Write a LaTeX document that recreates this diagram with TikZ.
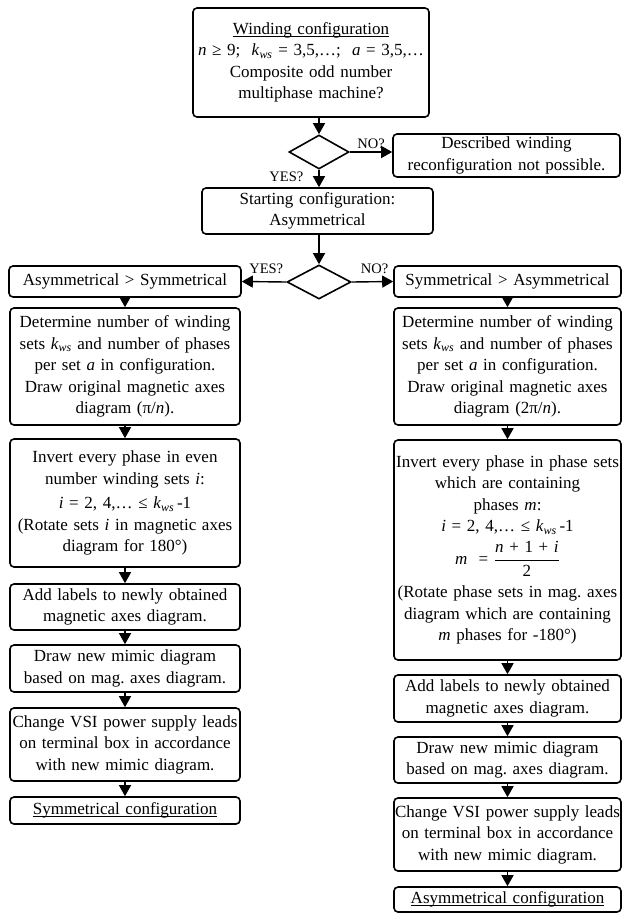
\documentclass[tikz,border=0pt]{standalone}
\usepackage{amsmath}
\usepackage{fontspec}
\setmainfont{Liberation Serif}
\usetikzlibrary{shapes.geometric,arrows.meta}
\newsavebox{\ulbox}
\newcommand{\ulin}[1]{\sbox{\ulbox}{#1}\rlap{\rule[-2.2pt]{\wd\ulbox}{0.8pt}}\usebox{\ulbox}}
\newcommand{\kws}{\textit{k}\textsubscript{\textit{ws}}}
\tikzset{
  box/.style 2 args={draw, rounded corners=4pt, line width=1.6pt, align=center,
    text width=#1, minimum height=#2, inner xsep=0pt, inner ysep=0pt},
  dec/.style 2 args={draw, diamond, line width=1.6pt, minimum width=#1,
    minimum height=#2, inner sep=0pt},
  arr/.style={line width=1.4pt, -{Triangle[width=12pt,length=11pt]}},
  lbl/.style={font=\fontsize{14.5}{16}\selectfont, inner sep=1pt}
}

\begin{document}
\begin{tikzpicture}[x=1pt, y=-1pt, font=\fontsize{17}{21.5}\selectfont\frenchspacing]
\useasboundingbox (0,0) rectangle (623,913);
\node[box={236pt}{109pt}] (win) at (311,62.5) {\ulin{Winding configuration}\\
  \textit{n} ≥ 9;\ \ \kws{} = 3,5,…;\ \ \textit{a} = 3,5,…\\
  Composite odd number\\ multiphase machine?};
\node[dec={60pt}{34pt}] (d1) at (319,152) {};
\node[box={227pt}{43pt}] (nopos) at (506.5,155.5) {Described winding\\ reconfiguration not possible.};
\node[box={231pt}{46pt}] (start) at (317.5,211) {Starting configuration:\\ Asymmetrical};
\node[dec={64pt}{34pt}] (d2) at (319,282) {};
\node[box={232pt}{31pt}] (asym) at (125,281.5) {Asymmetrical > Symmetrical};
\node[box={227pt}{31pt}] (sym) at (507.5,281.5) {Symmetrical > Asymmetrical};

\node[box={230pt}{117pt}] (L1) at (125,366.5) {Determine number of winding\\
  sets \kws{} and number of phases\\ per set \textit{a} in configuration.\\
  Draw original magnetic axes\\ diagram (π/\textit{n}).};
\node[box={230pt}{128pt}] (L2) at (125,503) {Invert every phase in even\\
  number winding sets \textit{i}:\\[3pt] \textit{i} = 2, 4,… ≤ \kws{}\,-1\\
  (Rotate sets \textit{i} in magnetic axes\\ diagram for 180°)};
\node[box={230pt}{46pt}] (L3) at (125,607) {Add labels to newly obtained\\ magnetic axes diagram.};
\node[box={230pt}{47pt}] (L4) at (125,668.5) {Draw new mimic diagram\\ based on mag. axes diagram.};
\node[box={230pt}{73pt}] (L5) at (125,744.5) {Change VSI power supply leads\\
  on terminal box in accordance\\ with new mimic diagram.};
\node[box={230pt}{27pt}] (L6) at (125,810.5) {\ulin{Symmetrical configuration}};

\node[box={227pt}{117pt}] (R1) at (507.5,366.5) {Determine number of winding\\
  sets \kws{} and number of phases\\ per set \textit{a} in configuration.\\
  Draw original magnetic axes\\ diagram (2π/\textit{n}).};
\node[box={227pt}{220pt}] (R2) at (507.5,550) {Invert every phase in phase sets\\
  which are containing\\ phases \textit{m}:\\ \textit{i} = 2, 4,… ≤ \kws{}\,-1\\[6pt]
  $\textit{m}\ \ \text{=}\ \dfrac{\textit{n}\text{ + 1 + }\textit{i}}{\text{2}}$\\[9pt]
  (Rotate phase sets in mag. axes\\ diagram which are containing\\
  \textit{m} phases for -180°)};
\node[box={227pt}{47pt}] (R3) at (507.5,698.5) {Add labels to newly obtained\\ magnetic axes diagram.};
\node[box={227pt}{46pt}] (R4) at (507.5,760) {Draw new mimic diagram\\ based on mag. axes diagram.};
\node[box={227pt}{73pt}] (R5) at (507.5,834.5) {Change VSI power supply leads\\
  on terminal box in accordance\\ with new mimic diagram.};
\node[box={227pt}{25pt}] (R6) at (507.5,899.5) {\ulin{Asymmetrical configuration}};

\draw[arr] (win.south -| d1.north) -- (d1.north);
\draw[arr] (d1.east) -- (d1.east -| nopos.west) node[lbl, midway, above=2pt] (no1) {NO?};
\draw[arr] (d1.south) -- (d1.south |- start.north) node[lbl, pos=0.4, anchor=east, xshift=-14pt] (yes1) {YES?};
\draw[arr] (start.south -| d2.north) -- (d2.north);
\draw[arr] (d2.west) -- (asym.east) node[lbl, pos=0.45, above=6pt] (yes2) {YES?};
\draw[arr] (d2.east) -- (sym.west) node[lbl, pos=0.55, above=6pt] (no2) {NO?};
\draw[arr] (asym) -- (L1);
\draw[arr] (L1) -- (L2);
\draw[arr] (L2) -- (L3);
\draw[arr] (L3) -- (L4);
\draw[arr] (L4) -- (L5);
\draw[arr] (L5) -- (L6);
\draw[arr] (sym) -- (R1);
\draw[arr] (R1) -- (R2);
\draw[arr] (R2) -- (R3);
\draw[arr] (R3) -- (R4);
\draw[arr] (R4) -- (R5);
\draw[arr] (R5) -- (R6);
\end{tikzpicture}
\end{document}
